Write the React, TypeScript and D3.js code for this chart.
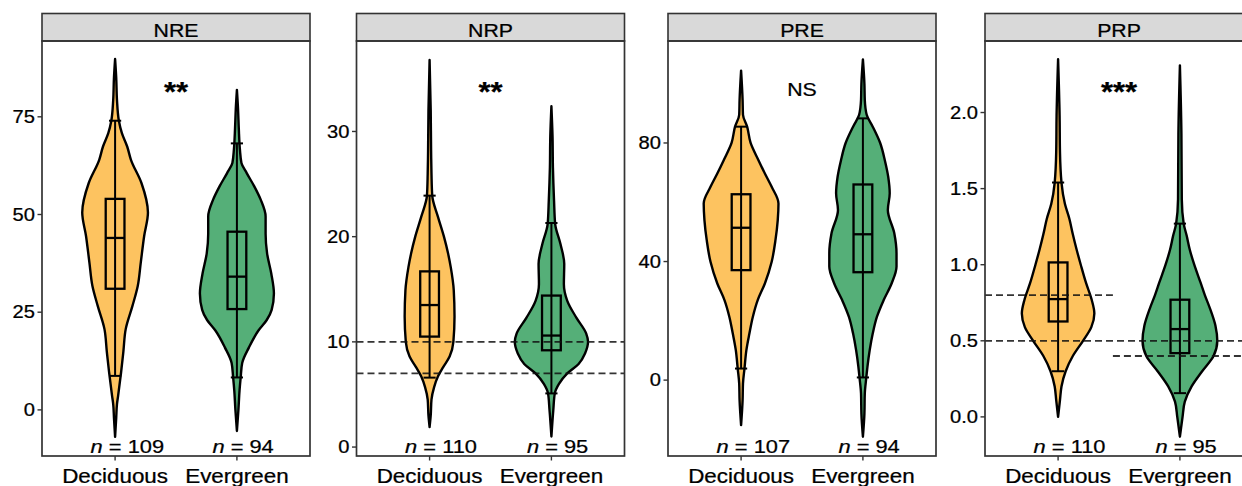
import React, { useEffect, useRef } from "react";
import * as d3 from "d3";

// ---- data ----
const categories = ["Deciduous", "Evergreen"];
const panelNames = ["NRE", "NRP", "PRE", "PRP"];
const significance = ["**", "**", "NS", "***"];
const sampleSizes = [
  [109, 94],
  [110, 95],
  [107, 94],
  [110, 95],
];
const yTicks = [
  [0, 25, 50, 75],
  [0, 10, 20, 30],
  [0, 40, 80],
  [0, 0.5, 1.0, 1.5, 2.0],
];
const yTickFormats = ["d", "d", "d", ".1f"];
const yLimits = [
  [-11.8, 94.4],
  [-0.85, 38.6],
  [-25.6, 114.4],
  [-0.257, 2.47],
];

// [lower whisker, q1, median, q3, upper whisker]
const nreBoxes = [
  [8.7, 31, 44, 54, 74],
  [8.3, 25.8, 34.1, 45.6, 68.2],
];
const nrpBoxes = [
  [6.6, 10.5, 13.5, 16.7, 23.9],
  [5.1, 9.2, 10.6, 14.4, 21.3],
];
const preBoxes = [
  [3.9, 37.1, 51.4, 62.7, 85.5],
  [0.9, 36.4, 49.2, 66.0, 88.3],
];
const prpBoxes = [
  [0.3, 0.627, 0.774, 1.015, 1.54],
  [0.156, 0.419, 0.577, 0.77, 1.27],
];

// violin density profiles: [value, relative density]
const nreDeciduous = [
  [-6.9, 0], [-2, 0.03], [1.5, 0.05], [3.6, 0.08], [9.7, 0.16], [15, 0.22], [20.6, 0.28],
  [26.6, 0.46], [31.7, 0.6], [37.7, 0.68], [44.5, 0.77], [50.5, 0.87], [58, 0.7],
  [64, 0.42], [67.4, 0.32], [70.8, 0.18], [74, 0.1], [79.3, 0.05], [85, 0.03], [89.8, 0],
];
const nreEvergreen = [
  [-5.4, 0], [0, 0.04], [5, 0.07], [8.3, 0.1], [12, 0.14], [16, 0.32], [20.3, 0.57],
  [23, 0.79], [25.6, 0.92], [29.8, 0.98], [34.9, 0.91], [40, 0.8], [45.1, 0.76],
  [49.5, 0.76], [53.8, 0.63], [57.2, 0.46], [60.6, 0.26], [63.2, 0.12], [66.6, 0.08],
  [72, 0.05], [77, 0.03], [81.9, 0],
];
const nrpDeciduous = [
  [1.9, 0], [3, 0.03], [4.5, 0.05], [5.7, 0.12], [6.7, 0.22], [7.6, 0.36], [8.6, 0.53],
  [10, 0.63], [12.4, 0.66], [14.9, 0.64], [17.1, 0.56], [18.4, 0.49], [20, 0.38],
  [21.9, 0.22], [23.9, 0.07], [26, 0.05], [28.2, 0.04], [32, 0.03], [36.8, 0],
];
const nrpEvergreen = [
  [1, 0], [3.5, 0.05], [5.1, 0.09], [6, 0.2], [7, 0.42], [7.9, 0.72], [8.9, 0.89],
  [10, 0.97], [10.8, 0.92], [12.3, 0.66], [13.9, 0.42], [15.5, 0.33], [17.4, 0.34],
  [19.3, 0.24], [21.2, 0.1], [23.4, 0.07], [26.6, 0.04], [29.5, 0.03], [32.4, 0],
];
const preDeciduous = [
  [-15.2, 0], [-6.8, 0.04], [-1.2, 0.05], [3.9, 0.09], [10.1, 0.14], [15.7, 0.22],
  [21.3, 0.31], [27, 0.44], [32.6, 0.63], [39.9, 0.81], [47.2, 0.91], [53.9, 0.97],
  [59.6, 0.99], [65.2, 0.81], [69.7, 0.63], [74.2, 0.46], [80.1, 0.25], [85.5, 0.16],
  [89.5, 0.05], [94.5, 0.04], [104.4, 0],
];
const preEvergreen = [
  [-19.1, 0], [-11.3, 0.04], [-4.5, 0.05], [0.9, 0.09], [4.5, 0.12], [10.1, 0.18],
  [15.7, 0.26], [21.3, 0.37], [27, 0.55], [32.6, 0.76], [38.3, 0.89], [42.8, 0.89],
  [49.6, 0.83], [57.4, 0.66], [63, 0.71], [68.6, 0.67], [74.2, 0.58], [79.9, 0.46],
  [85.5, 0.26], [89.5, 0.1], [94.5, 0.05], [100, 0.04], [108.2, 0],
];
const prpDeciduous = [
  [0, 0], [0.11, 0.05], [0.2, 0.09], [0.3, 0.2], [0.4, 0.39], [0.5, 0.66], [0.59, 0.88],
  [0.68, 0.96], [0.77, 0.89], [0.88, 0.74], [1.0, 0.6], [1.1, 0.49], [1.2, 0.39],
  [1.3, 0.3], [1.4, 0.18], [1.54, 0.09], [1.74, 0.05], [1.98, 0.04], [2.35, 0],
];
const prpEvergreen = [
  [-0.13, 0], [0, 0.07], [0.1, 0.13], [0.2, 0.31], [0.3, 0.59], [0.4, 0.89], [0.5, 0.99],
  [0.6, 0.94], [0.71, 0.8], [0.8, 0.66], [0.88, 0.55], [1.0, 0.38], [1.1, 0.26],
  [1.19, 0.18], [1.27, 0.1], [1.43, 0.05], [1.86, 0.04], [2.31, 0],
];

// reference lines: value and which side of the panel they cover
const nrpRefLines = [
  { value: 10, span: "all" },
  { value: 7, span: "all" },
];
const prpRefLines = [
  { value: 0.8, span: "Deciduous" },
  { value: 0.5, span: "all" },
  { value: 0.4, span: "Evergreen" },
];

const boxes = [nreBoxes, nrpBoxes, preBoxes, prpBoxes];
const violins = [
  [nreDeciduous, nreEvergreen],
  [nrpDeciduous, nrpEvergreen],
  [preDeciduous, preEvergreen],
  [prpDeciduous, prpEvergreen],
];
const refLines = [[], nrpRefLines, [], prpRefLines];

// ---- layout ----
const WIDTH = 1242;
const HEIGHT = 486;
const panelLeft = [42, 356.5, 668, 985];
const panelWidth = 268;
const stripTop = 13.5;
const plotTop = 41;
const plotBottom = 456;
const fills = ["#FDC360", "#55AF78"];
const font = "'Liberation Sans', Arial, Helvetica, sans-serif";
const stretch = 1.15;
const violinHalf = 0.31;
const boxHalf = 0.077;
const capHalf = 0.05;

export default function App() {
  const ref = useRef<SVGSVGElement>(null);

  useEffect(() => {
    const svg = d3.select(ref.current);
    svg.selectAll("*").remove();
    svg.append("rect").attr("width", WIDTH).attr("height", HEIGHT).attr("fill", "white");

    const addText = (g: any, px: number, py: number, size: number, anchor: string) =>
      g
        .append("text")
        .attr("transform", `translate(${px},${py}) scale(${stretch},1)`)
        .attr("font-family", font)
        .attr("font-size", size)
        .attr("text-anchor", anchor)
        .attr("fill", "#000")
        .attr("stroke", "#000")
        .attr("stroke-width", 0.25);

    panelNames.forEach((name, p) => {
      const left = panelLeft[p];
      const right = left + panelWidth;
      const x = d3.scaleLinear().domain([0.4, 2.6]).range([left, right]);
      const y = d3.scaleLinear().domain(yLimits[p]).range([plotBottom, plotTop]);
      const g = svg.append("g");

      // strip
      g.append("rect")
        .attr("x", left)
        .attr("y", stripTop)
        .attr("width", panelWidth)
        .attr("height", plotTop - stripTop)
        .attr("fill", "#D9D9D9")
        .attr("stroke", "#333")
        .attr("stroke-width", 1.6);
      addText(g, (left + right) / 2, 36.5, 18.5, "middle").text(name);

      // violins
      categories.forEach((cat, i) => {
        const c = i + 1;
        const area = d3
          .area<number[]>()
          .y(d => y(d[0]))
          .x0(d => x(c - d[1] * violinHalf))
          .x1(d => x(c + d[1] * violinHalf))
          .curve(d3.curveMonotoneY);
        g.append("path")
          .attr("d", area(violins[p][i]))
          .attr("fill", fills[i])
          .attr("stroke", "#000")
          .attr("stroke-width", 2.4)
          .attr("stroke-linejoin", "round");
      });

      // whiskers and boxes
      categories.forEach((cat, i) => {
        const c = i + 1;
        const [lo, q1, med, q3, hi] = boxes[p][i];
        const bg = g.append("g").attr("stroke", "#000").attr("fill", "none");
        bg.append("line")
          .attr("x1", x(c)).attr("x2", x(c))
          .attr("y1", y(lo)).attr("y2", y(hi))
          .attr("stroke-width", 2);
        [lo, hi].forEach(v =>
          bg.append("line")
            .attr("x1", x(c - capHalf)).attr("x2", x(c + capHalf))
            .attr("y1", y(v)).attr("y2", y(v))
            .attr("stroke-width", 2)
        );
        bg.append("rect")
          .attr("x", x(c - boxHalf))
          .attr("y", y(q3))
          .attr("width", x(c + boxHalf) - x(c - boxHalf))
          .attr("height", y(q1) - y(q3))
          .attr("stroke-width", 2.3);
        bg.append("line")
          .attr("x1", x(c - boxHalf)).attr("x2", x(c + boxHalf))
          .attr("y1", y(med)).attr("y2", y(med))
          .attr("stroke-width", 2.3);
      });

      // dashed reference lines
      refLines[p].forEach((r: any) => {
        const x0 = r.span === "Evergreen" ? x(1.45) : left;
        const x1 = r.span === "Deciduous" ? x(1.45) : right;
        g.append("line")
          .attr("x1", x0).attr("x2", x1)
          .attr("y1", y(r.value)).attr("y2", y(r.value))
          .attr("stroke", "#111")
          .attr("stroke-width", 1.8)
          .attr("stroke-dasharray", "7,4")
          .attr("opacity", 0.85);
      });

      // significance
      const sig = significance[p];
      if (sig === "NS") addText(g, x(1.5), 96, 18.5, "middle").text(sig);
      else addText(g, x(1.5), 101, 27, "middle").attr("font-weight", "bold").text(sig);

      // sample sizes
      categories.forEach((cat, i) => {
        const t = addText(g, x(i + 1) - 24.5, 453, 19, "start");
        t.append("tspan").attr("font-style", "italic").text("n");
        t.append("tspan").text(` = ${sampleSizes[p][i]}`);
      });

      // panel border
      g.append("rect")
        .attr("x", left)
        .attr("y", plotTop)
        .attr("width", panelWidth)
        .attr("height", plotBottom - plotTop)
        .attr("fill", "none")
        .attr("stroke", "#333")
        .attr("stroke-width", 1.7);

      // y axis
      const fmt = d3.format(yTickFormats[p]);
      yTicks[p].forEach(t => {
        g.append("line")
          .attr("x1", left - 4.5).attr("x2", left)
          .attr("y1", y(t)).attr("y2", y(t))
          .attr("stroke", "#333").attr("stroke-width", 1.4);
        addText(g, left - 7, y(t) + 6.2, 17.5, "end").text(fmt(t));
      });

      // x axis
      categories.forEach((cat, i) => {
        g.append("line")
          .attr("x1", x(i + 1)).attr("x2", x(i + 1))
          .attr("y1", plotBottom).attr("y2", plotBottom + 4.5)
          .attr("stroke", "#333").attr("stroke-width", 1.4);
        addText(g, x(i + 1), 483, 19.5, "middle").text(cat);
      });
    });
  }, []);

  return (
    <svg
      ref={ref}
      width={WIDTH}
      height={HEIGHT}
      style={{ position: "absolute", left: 0, top: 0, display: "block" }}
    />
  );
}
